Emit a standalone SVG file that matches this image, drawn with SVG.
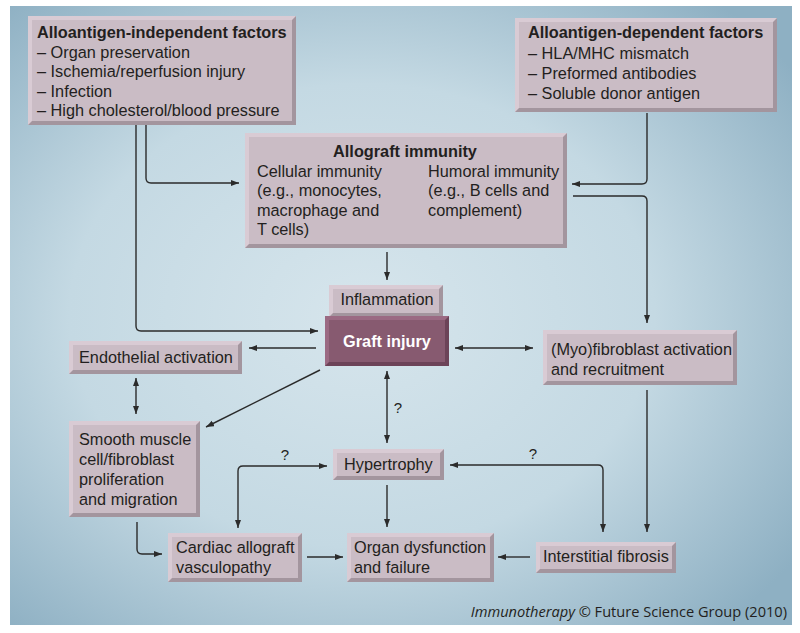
<svg xmlns="http://www.w3.org/2000/svg" width="800" height="633" viewBox="0 0 800 633">
<defs>
<radialGradient id="bg" cx="45%" cy="50%" r="68%">
<stop offset="0" stop-color="#d6e5ec"/>
<stop offset="0.55" stop-color="#c4d9e3"/>
<stop offset="1" stop-color="#8eb0c3"/>
</radialGradient>
<marker id="ah" markerUnits="userSpaceOnUse" markerWidth="9" markerHeight="7" refX="8" refY="3" orient="auto-start-reverse">
<path d="M0,0 L8,3 L0,6 z" fill="#2b2b2b"/>
</marker>
</defs>
<style>
.sh{fill:#a3959e}
.hi{fill:#d9cbd4}
.face{fill:#cabcc5}
.gsh{fill:#6c4358}
.ghi{fill:#9b6a83}
.gface{fill:#875a70}
text{font-family:"Liberation Sans",Arial,sans-serif;font-size:16.3px;fill:#231f20}
.b{font-weight:bold}
.w{fill:#ffffff}
.c line,.c path{fill:none;stroke:#2b2b2b;stroke-width:1.4}
.e{marker-end:url(#ah)}
.s{marker-start:url(#ah)}
.q{font-size:15px}
.cr{font-family:"Open Sans","DejaVu Sans",sans-serif;font-size:14.6px}
</style>
<rect x="0" y="0" width="800" height="633" fill="#ffffff"/>
<rect x="10" y="6" width="782" height="619" fill="url(#bg)"/>

<g class="c">
<path class="e" d="M136,125 V326 Q136,331 141,331 H318"/>
<path class="e" d="M146,125 V178 Q146,183 151,183 H239"/>
<path class="e" d="M647,113 V179 Q647,184 642,184 H572"/>
<path class="e" d="M573,196 H642 Q647,196 647,201 V323"/>
<path class="e" d="M387,252 V280"/>
<path class="e" d="M316,348 H249"/>
<path class="s e" d="M455,348 H533"/>
<path class="s e" d="M136,378 V414"/>
<path class="e" d="M320,370 L206,427"/>
<path class="s e" d="M387,371 V443"/>
<path class="e" d="M387,485 V527"/>
<path class="s e" d="M327,466 H243 Q238,466 238,471 V528"/>
<path class="s e" d="M450,465 H598 Q603,465 603,470 V532"/>
<path class="e" d="M647,390 V532"/>
<path class="e" d="M137,522 V549 Q137,554 142,554 H162"/>
<path class="e" d="M307,557 H343"/>
<path class="e" d="M530,557 H498"/>
<text class="q" x="398" y="413" text-anchor="middle">?</text>
<text class="q" x="285" y="460" text-anchor="middle">?</text>
<text class="q" x="533" y="459" text-anchor="middle">?</text>
</g>

<g id="independent">
<rect class="sh" x="28" y="16" width="268" height="109"/>
<polygon class="hi" points="28,16 296,16 292,20 32,20 32,121 28,125"/>
<rect class="face" x="32" y="20" width="260" height="101"/>
<text class="b" x="37" y="38">Alloantigen-independent factors</text>
<text x="37" y="57.5">– Organ preservation</text>
<text x="37" y="77">– Ischemia/reperfusion injury</text>
<text x="37" y="96.5">– Infection</text>
<text x="37" y="116">– High cholesterol/blood pressure</text>
</g>

<g id="dependent">
<rect class="sh" x="515" y="18" width="262" height="94"/>
<polygon class="hi" points="515,18 777,18 773,22 519,22 519,108 515,112"/>
<rect class="face" x="519" y="22" width="254" height="86"/>
<text class="b" x="528" y="38">Alloantigen-dependent factors</text>
<text x="528" y="59">– HLA/MHC mismatch</text>
<text x="528" y="79">– Preformed antibodies</text>
<text x="528" y="99">– Soluble donor antigen</text>
</g>

<g id="immunity">
<rect class="sh" x="245" y="133" width="322" height="115"/>
<polygon class="hi" points="245,133 567,133 563,137 249,137 249,244 245,248"/>
<rect class="face" x="249" y="137" width="314" height="107"/>
<text class="b" x="405" y="157" text-anchor="middle">Allograft immunity</text>
<text x="257" y="176.5">Cellular immunity</text>
<text x="257" y="196">(e.g., monocytes,</text>
<text x="257" y="215.5">macrophage and</text>
<text x="257" y="235">T cells)</text>
<text x="428" y="176.5">Humoral immunity</text>
<text x="428" y="196">(e.g., B cells and</text>
<text x="428" y="215.5">complement)</text>
</g>

<g id="inflammation">
<rect class="sh" x="329" y="285" width="114" height="32"/>
<polygon class="hi" points="329,285 443,285 439,289 333,289 333,313 329,317"/>
<rect class="face" x="333" y="289" width="106" height="24"/>
<text x="387" y="305" text-anchor="middle">Inflammation</text>
</g>

<g id="graft">
<rect class="gsh" x="325" y="316" width="124" height="50"/>
<polygon class="ghi" points="325,316 449,316 445,320 329,320 329,362 325,366"/>
<rect class="gface" x="329" y="320" width="116" height="42"/>
<text class="b w" x="387" y="347" text-anchor="middle">Graft injury</text>
</g>

<g id="endothelial">
<rect class="sh" x="69" y="341" width="173" height="33"/>
<polygon class="hi" points="69,341 242,341 238,345 73,345 73,370 69,374"/>
<rect class="face" x="73" y="345" width="165" height="25"/>
<text x="79" y="363">Endothelial activation</text>
</g>

<g id="myofibroblast">
<rect class="sh" x="543" y="330" width="194" height="55"/>
<polygon class="hi" points="543,330 737,330 733,334 547,334 547,381 543,385"/>
<rect class="face" x="547" y="334" width="186" height="47"/>
<text x="551" y="355">(Myo)fibroblast activation</text>
<text x="551" y="374.5">and recruitment</text>
</g>

<g id="smooth">
<rect class="sh" x="69" y="421" width="131" height="96"/>
<polygon class="hi" points="69,421 200,421 196,425 73,425 73,513 69,517"/>
<rect class="face" x="73" y="425" width="123" height="88"/>
<text x="79" y="445">Smooth muscle</text>
<text x="79" y="465">cell/fibroblast</text>
<text x="79" y="485">proliferation</text>
<text x="79" y="505">and migration</text>
</g>

<g id="hypertrophy">
<rect class="sh" x="333" y="449" width="111" height="31"/>
<polygon class="hi" points="333,449 444,449 440,453 337,453 337,476 333,480"/>
<rect class="face" x="337" y="453" width="103" height="23"/>
<text x="344" y="470">Hypertrophy</text>
</g>

<g id="cardiac">
<rect class="sh" x="168" y="533" width="134" height="49"/>
<polygon class="hi" points="168,533 302,533 298,537 172,537 172,578 168,582"/>
<rect class="face" x="172" y="537" width="126" height="41"/>
<text x="176" y="553">Cardiac allograft</text>
<text x="176" y="573">vasculopathy</text>
</g>

<g id="organ">
<rect class="sh" x="347" y="533" width="147" height="49"/>
<polygon class="hi" points="347,533 494,533 490,537 351,537 351,578 347,582"/>
<rect class="face" x="351" y="537" width="139" height="41"/>
<text x="354" y="553">Organ dysfunction</text>
<text x="354" y="573">and failure</text>
</g>

<g id="interstitial">
<rect class="sh" x="536" y="542" width="140" height="31"/>
<polygon class="hi" points="536,542 676,542 672,546 540,546 540,569 536,573"/>
<rect class="face" x="540" y="546" width="132" height="23"/>
<text x="543" y="562">Interstitial fibrosis</text>
</g>

<text class="cr" x="787" y="617" text-anchor="end"><tspan font-style="italic">Immunotherapy</tspan> © Future Science Group (2010)</text>
</svg>
